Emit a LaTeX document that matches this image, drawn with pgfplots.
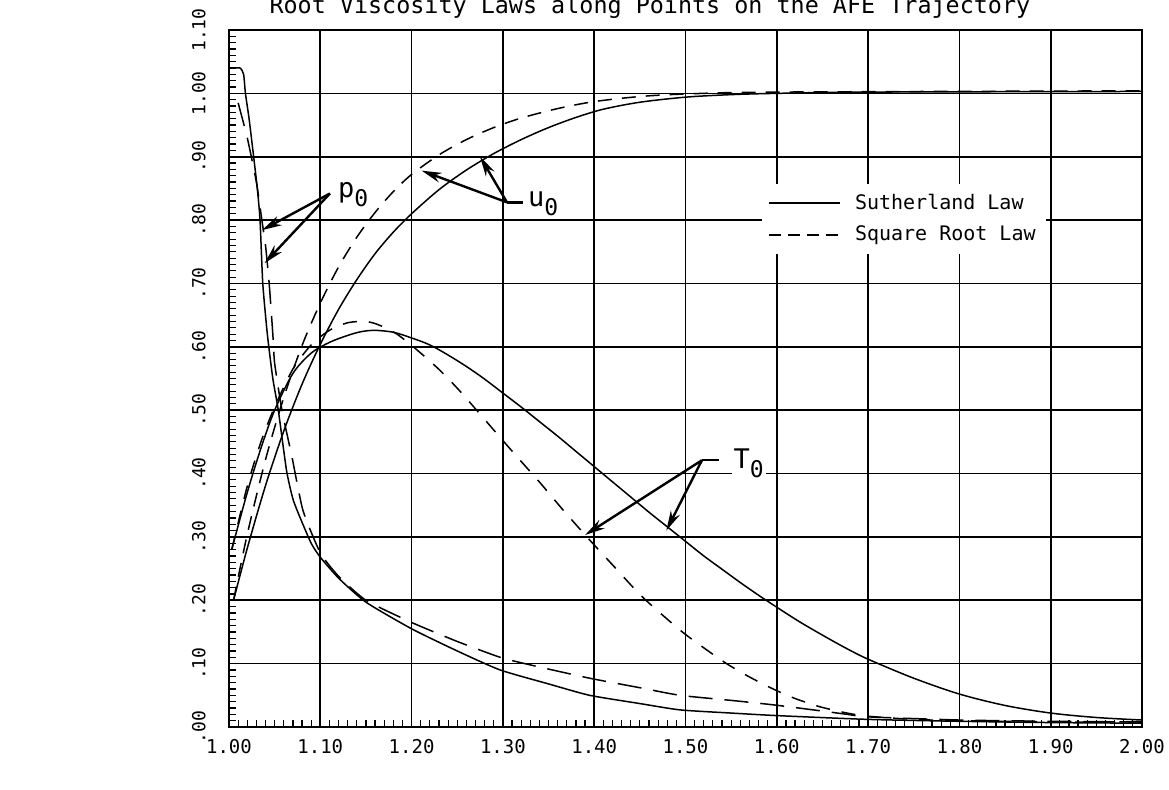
\documentclass[border=0pt]{standalone}
\usepackage{fontspec}
\setmainfont{DejaVu Sans Mono}
\usepackage{pgfplots}
\pgfplotsset{compat=1.18}
\usetikzlibrary{arrows.meta}
\newcommand{\sub}[1]{\raisebox{-0.6ex}{\fontsize{11.5}{12}\selectfont #1}}
\begin{document}
\begin{tikzpicture}
\begin{axis}[
  scale only axis, width=456.5pt, height=348.5pt,
  xmin=1, xmax=2, ymin=0, ymax=1.1,
  xtick={1,1.1,1.2,1.3,1.4,1.5,1.6,1.7,1.8,1.9,2},
  xticklabels={1.00,1.10,1.20,1.30,1.40,1.50,1.60,1.70,1.80,1.90,2.00},
  ytick={0,0.1,0.2,0.3,0.4,0.5,0.6,0.7,0.8,0.9,1.0,1.1},
  yticklabels={.00,.10,.20,.30,.40,.50,.60,.70,.80,.90,1.00,1.10},
  minor x tick num=9, minor y tick num=9,
  tick pos=left, tick align=inside,
  major tick length=5pt, minor tick length=3.5pt,
  grid=major, major grid style={black, line width=0.8pt},
  axis line style={line width=1pt},
  tick style={black, line width=0.6pt},
  xticklabel style={font=\fontsize{9.5}{10}\selectfont, inner sep=0pt},
  xticklabel shift=6pt,
  yticklabel style={font=\fontsize{9}{10}\selectfont, rotate=90, anchor=south, inner sep=0pt},
  yticklabel shift=11.5pt,
  legend image code/.code={\draw[#1] (0pt,0pt) -- (35.5pt,0pt);},
  legend style={at={(axis cs:1.5838,0.858)}, anchor=north west, draw=none, fill=white,
    font=\fontsize{10}{12}\selectfont, row sep=3pt, column sep=5pt, inner sep=3pt},
  legend cell align=left,
]
\coordinate (bbSW) at (rel axis cs:0,0);
\coordinate (bbNE) at (rel axis cs:1,1);
\coordinate (ttl) at (rel axis cs:0.461,1);

\addlegendimage{black, solid, line width=0.8pt}
\addlegendentry{Sutherland Law}
\addlegendimage{black, dash pattern=on 6pt off 3.5pt, line width=0.8pt}
\addlegendentry{Square Root Law}

% p0 Sutherland
\addplot[forget plot, black, line width=0.75pt, smooth, tension=0.35] coordinates {
(1.000,1.040)(1.012,1.040)(1.016,1.030)(1.018,1.000)(1.022,0.960)(1.027,0.900)
(1.031,0.850)(1.034,0.800)(1.037,0.700)(1.042,0.620)(1.048,0.550)(1.054,0.500)
(1.063,0.405)(1.070,0.360)(1.078,0.330)(1.090,0.290)(1.100,0.268)(1.120,0.235)
(1.150,0.197)(1.200,0.155)(1.250,0.120)(1.297,0.090)(1.350,0.068)(1.395,0.050)
(1.450,0.037)(1.494,0.027)(1.550,0.022)(1.600,0.018)(1.700,0.012)(1.800,0.009)
(1.900,0.007)(2.000,0.006)};
% p0 square root
\addplot[forget plot, black, line width=0.75pt, dash pattern=on 12pt off 6pt, smooth, tension=0.35] coordinates {
(1.010,0.985)(1.020,0.930)(1.030,0.860)(1.036,0.800)(1.040,0.760)(1.044,0.700)
(1.048,0.620)(1.050,0.574)(1.058,0.500)(1.069,0.426)(1.081,0.342)(1.100,0.275)
(1.120,0.238)(1.150,0.200)(1.200,0.165)(1.250,0.135)(1.297,0.110)(1.330,0.098)
(1.395,0.077)(1.450,0.062)(1.494,0.050)(1.550,0.042)(1.596,0.035)(1.640,0.027)
(1.677,0.020)(1.700,0.016)(1.800,0.011)(1.900,0.009)(2.000,0.008)};
% u0 Sutherland
\addplot[forget plot, black, line width=0.75pt, smooth, tension=0.5] coordinates {
(1.005,0.200)(1.020,0.282)(1.040,0.381)(1.060,0.467)(1.080,0.541)(1.100,0.604)
(1.120,0.659)(1.140,0.706)(1.160,0.747)(1.180,0.781)(1.200,0.810)(1.230,0.848)
(1.260,0.879)(1.290,0.905)(1.320,0.927)(1.350,0.946)(1.380,0.962)(1.410,0.975)
(1.450,0.986)(1.500,0.994)(1.550,0.998)(1.600,1.000)(1.700,1.002)(2.000,1.003)};
% u0 square root
\addplot[forget plot, black, line width=0.75pt, dash pattern=on 7pt off 5pt, smooth, tension=0.5] coordinates {
(1.005,0.200)(1.020,0.304)(1.040,0.422)(1.060,0.520)(1.080,0.602)(1.100,0.669)
(1.120,0.726)(1.140,0.773)(1.160,0.812)(1.180,0.845)(1.200,0.872)(1.230,0.903)
(1.260,0.927)(1.290,0.946)(1.320,0.961)(1.360,0.976)(1.400,0.987)(1.450,0.995)
(1.500,0.999)(1.600,1.002)(2.000,1.004)};
% T0 Sutherland
\addplot[forget plot, black, line width=0.75pt, smooth, tension=0.5] coordinates {
(1.003,0.280)(1.020,0.370)(1.035,0.440)(1.050,0.500)(1.070,0.558)(1.090,0.590)
(1.110,0.607)(1.130,0.618)(1.145,0.624)(1.160,0.626)(1.180,0.623)(1.200,0.614)
(1.220,0.603)(1.240,0.587)(1.260,0.569)(1.280,0.549)(1.300,0.527)(1.320,0.505)
(1.340,0.482)(1.360,0.459)(1.380,0.435)(1.400,0.411)(1.420,0.387)(1.440,0.363)
(1.460,0.339)(1.480,0.316)(1.500,0.293)(1.520,0.270)(1.540,0.249)(1.560,0.228)
(1.580,0.208)(1.600,0.189)(1.625,0.166)(1.650,0.145)(1.675,0.125)(1.700,0.107)
(1.750,0.077)(1.800,0.052)(1.850,0.034)(1.900,0.022)(1.950,0.015)(2.000,0.011)};
% T0 square root
\addplot[forget plot, black, line width=0.75pt, dash pattern=on 7pt off 6pt, smooth, tension=0.45] coordinates {
(1.003,0.280)(1.020,0.380)(1.035,0.450)(1.050,0.505)(1.070,0.565)(1.090,0.603)
(1.110,0.626)(1.130,0.638)(1.150,0.640)(1.165,0.634)(1.184,0.620)(1.206,0.595)
(1.231,0.563)(1.253,0.530)(1.273,0.497)(1.297,0.457)(1.317,0.424)(1.341,0.385)
(1.365,0.344)(1.392,0.300)(1.420,0.256)(1.453,0.205)(1.494,0.153)(1.520,0.125)
(1.545,0.100)(1.570,0.079)(1.596,0.060)(1.620,0.045)(1.647,0.032)(1.677,0.022)
(1.700,0.017)(1.750,0.012)(1.800,0.010)(1.900,0.008)(2.000,0.008)};

% annotations
\draw[line width=1.2pt, -{Stealth[length=10pt,width=5pt]}] (axis cs:1.1106,0.842) -- (axis cs:1.036,0.784);
\draw[line width=1.2pt, -{Stealth[length=10pt,width=5pt]}] (axis cs:1.1106,0.842) -- (axis cs:1.039,0.732);
\node[anchor=base west, fill=white, inner sep=1pt, font=\fontsize{13.5}{14}\selectfont] at (axis cs:1.117,0.836) {p\sub{0}};

\draw[line width=1.2pt] (axis cs:1.3045,0.828) -- (axis cs:1.322,0.828);
\draw[line width=1.2pt, -{Stealth[length=10pt,width=5pt]}] (axis cs:1.3045,0.828) -- (axis cs:1.211,0.878);
\draw[line width=1.2pt, -{Stealth[length=10pt,width=5pt]}] (axis cs:1.3045,0.828) -- (axis cs:1.275,0.900);
\node[anchor=base west, fill=white, inner sep=1pt, font=\fontsize{13.5}{14}\selectfont] at (axis cs:1.325,0.822) {u\sub{0}};

\draw[line width=1.2pt] (axis cs:1.518,0.421) -- (axis cs:1.537,0.421);
\draw[line width=1.2pt, -{Stealth[length=10pt,width=5pt]}] (axis cs:1.518,0.421) -- (axis cs:1.390,0.303);
\draw[line width=1.2pt, -{Stealth[length=10pt,width=5pt]}] (axis cs:1.518,0.421) -- (axis cs:1.479,0.310);
\node[anchor=base west, fill=white, inner sep=1pt, font=\fontsize{13.5}{14}\selectfont] at (axis cs:1.550,0.4085) {T\sub{0}};

% axis labels
\node[anchor=base east, font=\fontsize{13}{14}\selectfont] at ([xshift=-29.5pt]axis cs:1,0.405) {u\sub{0}, T\sub{0}, p\sub{0}};
\node[anchor=base, font=\fontsize{13}{14}\selectfont] at ([yshift=-28pt]axis cs:1.505,0) {r};
\end{axis}
\node[anchor=base, font=\fontsize{11.7}{13}\selectfont] at ([yshift=8pt]ttl) {Root Viscosity Laws along Points on the AFE Trajectory};
\pgfresetboundingbox
\useasboundingbox ([xshift=-114.5pt,yshift=-31pt]bbSW) rectangle ([xshift=13.5pt,yshift=15pt]bbNE);
\end{tikzpicture}
\end{document}
